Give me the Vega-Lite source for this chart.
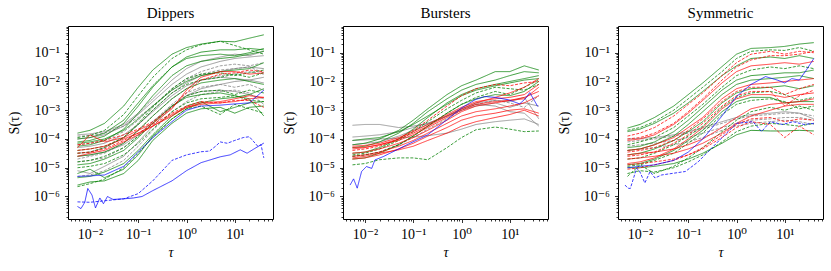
{
"$schema":"https://vega.github.io/schema/vega-lite/v6.json",
"padding":{"left":6,"top":5,"right":5,"bottom":5},
"config":{"font":"Liberation Serif, DejaVu Serif, Times New Roman, serif","view":{"stroke":"black","strokeWidth":1},
"axis":{"tickColor":"black","labelColor":"black","titleColor":"black","labelFont":"Liberation Serif, DejaVu Serif, Times New Roman, serif","titleFont":"Liberation Serif, DejaVu Serif, Times New Roman, serif","labelFontSize":14,"titleFontSize":14,"titleFontWeight":"normal","tickWidth":0.8,"grid":false,"domain":false,"labelOverlap":false},
"title":{"font":"Liberation Serif, DejaVu Serif, Times New Roman, serif","fontSize":15,"fontWeight":"normal","color":"black","offset":5}},
"spacing":70,
"bounds":"flush",
"datasets":{
"lines":[{"l":"D1","c":"g","d":"s"},{"l":"D2","c":"g","d":"d"},{"l":"D3","c":"g","d":"s"},{"l":"D4","c":"g","d":"s"},{"l":"D5","c":"g","d":"d"},{"l":"D6","c":"g","d":"s"},{"l":"D7","c":"g","d":"d"},{"l":"D8","c":"g","d":"s"},{"l":"D9","c":"g","d":"s"},{"l":"D10","c":"g","d":"d"},{"l":"D11","c":"g","d":"s"},{"l":"D12","c":"g","d":"d"},{"l":"D13","c":"g","d":"s"},{"l":"D14","c":"g","d":"d"},{"l":"D15","c":"g","d":"s"},{"l":"D16","c":"g","d":"s"},{"l":"D17","c":"k","d":"s"},{"l":"D18","c":"k","d":"d"},{"l":"D19","c":"k","d":"s"},{"l":"D20","c":"k","d":"d"},{"l":"D21","c":"k","d":"s"},{"l":"D22","c":"k","d":"d"},{"l":"D23","c":"k","d":"s"},{"l":"D24","c":"k","d":"d"},{"l":"D25","c":"k","d":"s"},{"l":"D26","c":"k","d":"d"},{"l":"D27","c":"k","d":"s"},{"l":"D28","c":"r","d":"s"},{"l":"D29","c":"r","d":"s"},{"l":"D30","c":"r","d":"d"},{"l":"D31","c":"r","d":"s"},{"l":"D32","c":"r","d":"d"},{"l":"D33","c":"b","d":"s"},{"l":"D34","c":"b","d":"d"},{"l":"D35","c":"b","d":"s"},
{"l":"B1","c":"k","d":"s"},{"l":"B2","c":"k","d":"s"},{"l":"B3","c":"k","d":"s"},{"l":"B4","c":"k","d":"d"},{"l":"B5","c":"k","d":"s"},{"l":"B6","c":"r","d":"s"},{"l":"B7","c":"r","d":"s"},{"l":"B8","c":"r","d":"s"},{"l":"B9","c":"r","d":"s"},{"l":"B10","c":"r","d":"s"},{"l":"B11","c":"r","d":"s"},{"l":"B12","c":"r","d":"d"},{"l":"B13","c":"r","d":"s"},{"l":"B14","c":"g","d":"s"},{"l":"B15","c":"g","d":"s"},{"l":"B16","c":"g","d":"s"},{"l":"B17","c":"g","d":"d"},{"l":"B18","c":"g","d":"s"},{"l":"B19","c":"g","d":"d"},{"l":"B20","c":"g","d":"s"},{"l":"B21","c":"g","d":"d"},{"l":"B22","c":"b","d":"s"},
{"l":"S1","c":"g","d":"s"},{"l":"S2","c":"r","d":"d"},{"l":"S3","c":"g","d":"s"},{"l":"S4","c":"r","d":"s"},{"l":"S5","c":"g","d":"d"},{"l":"S6","c":"g","d":"s"},{"l":"S7","c":"r","d":"d"},{"l":"S8","c":"g","d":"s"},{"l":"S9","c":"g","d":"d"},{"l":"S10","c":"r","d":"s"},{"l":"S11","c":"g","d":"s"},{"l":"S12","c":"r","d":"d"},{"l":"S13","c":"g","d":"d"},{"l":"S14","c":"r","d":"s"},{"l":"S15","c":"g","d":"s"},{"l":"S16","c":"r","d":"d"},{"l":"S17","c":"g","d":"d"},{"l":"S18","c":"k","d":"d"},{"l":"S19","c":"k","d":"d"},{"l":"S20","c":"k","d":"d"},{"l":"S21","c":"k","d":"s"},{"l":"S22","c":"r","d":"s"},{"l":"S23","c":"r","d":"d"},{"l":"S24","c":"g","d":"s"},{"l":"S25","c":"g","d":"d"},{"l":"S26","c":"r","d":"s"},{"l":"S27","c":"g","d":"d"},{"l":"S28","c":"r","d":"d"},{"l":"S29","c":"b","d":"s"},{"l":"S30","c":"b","d":"d"}],
"dip":[
{"l":"D17","t":0.0055,"s":1e-4},{"l":"D17","t":0.01,"s":1.12e-4},{"l":"D17","t":0.02,"s":1.4e-4},{"l":"D17","t":0.05,"s":2.8e-4},{"l":"D17","t":0.1,"s":7.1e-4},{"l":"D17","t":0.2,"s":2e-3},{"l":"D17","t":0.5,"s":7.9e-3},{"l":"D17","t":1,"s":1.8e-2},{"l":"D17","t":2,"s":3.2e-2},{"l":"D17","t":5,"s":5e-2},{"l":"D17","t":10,"s":6.3e-2},{"l":"D17","t":20,"s":7.1e-2},{"l":"D17","t":40,"s":7.9e-2},
{"l":"D18","t":0.0055,"s":6.3e-5},{"l":"D18","t":0.01,"s":7.1e-5},{"l":"D18","t":0.02,"s":8.9e-5},{"l":"D18","t":0.05,"s":1.8e-4},{"l":"D18","t":0.1,"s":4.5e-4},{"l":"D18","t":0.2,"s":1.4e-3},{"l":"D18","t":0.5,"s":5.6e-3},{"l":"D18","t":1,"s":1.26e-2},{"l":"D18","t":2,"s":2.2e-2},{"l":"D18","t":5,"s":3.5e-2},{"l":"D18","t":10,"s":4e-2},{"l":"D18","t":20,"s":3.5e-2},{"l":"D18","t":40,"s":4.5e-2},
{"l":"D19","t":0.0055,"s":3.2e-5},{"l":"D19","t":0.01,"s":3.5e-5},{"l":"D19","t":0.02,"s":5e-5},{"l":"D19","t":0.05,"s":1.12e-4},{"l":"D19","t":0.1,"s":3.2e-4},{"l":"D19","t":0.2,"s":1e-3},{"l":"D19","t":0.5,"s":4e-3},{"l":"D19","t":1,"s":8.9e-3},{"l":"D19","t":2,"s":1.6e-2},{"l":"D19","t":5,"s":2.2e-2},{"l":"D19","t":10,"s":2.8e-2},{"l":"D19","t":20,"s":3.2e-2},{"l":"D19","t":40,"s":2.8e-2},
{"l":"D20","t":0.0055,"s":2e-5},{"l":"D20","t":0.01,"s":2.5e-5},{"l":"D20","t":0.02,"s":3.2e-5},{"l":"D20","t":0.05,"s":7.1e-5},{"l":"D20","t":0.1,"s":2e-4},{"l":"D20","t":0.2,"s":6.3e-4},{"l":"D20","t":0.5,"s":2.5e-3},{"l":"D20","t":1,"s":5.6e-3},{"l":"D20","t":2,"s":1.12e-2},{"l":"D20","t":5,"s":1.6e-2},{"l":"D20","t":10,"s":1.8e-2},{"l":"D20","t":20,"s":2.2e-2},{"l":"D20","t":40,"s":1.8e-2},
{"l":"D21","t":0.0055,"s":7.9e-6},{"l":"D21","t":0.01,"s":6.3e-6},{"l":"D21","t":0.02,"s":1.12e-5},{"l":"D21","t":0.05,"s":2.5e-5},{"l":"D21","t":0.1,"s":7.9e-5},{"l":"D21","t":0.2,"s":2.8e-4},{"l":"D21","t":0.5,"s":1.26e-3},{"l":"D21","t":1,"s":3.2e-3},{"l":"D21","t":2,"s":5.6e-3},{"l":"D21","t":5,"s":7.9e-3},{"l":"D21","t":10,"s":1e-2},{"l":"D21","t":20,"s":1.12e-2},{"l":"D21","t":40,"s":1.4e-2},
{"l":"D22","t":0.0055,"s":1.26e-4},{"l":"D22","t":0.01,"s":1.3e-4},{"l":"D22","t":0.02,"s":1.6e-4},{"l":"D22","t":0.05,"s":2.8e-4},{"l":"D22","t":0.1,"s":5.6e-4},{"l":"D22","t":0.2,"s":1.4e-3},{"l":"D22","t":0.5,"s":5e-3},{"l":"D22","t":1,"s":1.12e-2},{"l":"D22","t":2,"s":1.8e-2},{"l":"D22","t":5,"s":2.5e-2},{"l":"D22","t":10,"s":2.8e-2},{"l":"D22","t":20,"s":3.2e-2},{"l":"D22","t":40,"s":2e-2},
{"l":"D23","t":0.0055,"s":5e-5},{"l":"D23","t":0.01,"s":5.6e-5},{"l":"D23","t":0.02,"s":7.1e-5},{"l":"D23","t":0.05,"s":1.4e-4},{"l":"D23","t":0.1,"s":3.2e-4},{"l":"D23","t":0.2,"s":8.9e-4},{"l":"D23","t":0.5,"s":3.2e-3},{"l":"D23","t":1,"s":7.1e-3},{"l":"D23","t":2,"s":1.12e-2},{"l":"D23","t":5,"s":1.4e-2},{"l":"D23","t":10,"s":1.26e-2},{"l":"D23","t":20,"s":1.12e-2},{"l":"D23","t":40,"s":8.9e-3},
{"l":"D24","t":0.0055,"s":1.6e-5},{"l":"D24","t":0.01,"s":1.8e-5},{"l":"D24","t":0.02,"s":2.2e-5},{"l":"D24","t":0.05,"s":5e-5},{"l":"D24","t":0.1,"s":1.26e-4},{"l":"D24","t":0.2,"s":4e-4},{"l":"D24","t":0.5,"s":1.6e-3},{"l":"D24","t":1,"s":4e-3},{"l":"D24","t":2,"s":6.3e-3},{"l":"D24","t":5,"s":7.9e-3},{"l":"D24","t":10,"s":6.3e-3},{"l":"D24","t":20,"s":7.9e-3},{"l":"D24","t":40,"s":5e-3},
{"l":"D25","t":0.0055,"s":2.5e-5},{"l":"D25","t":0.01,"s":2.8e-5},{"l":"D25","t":0.02,"s":3.5e-5},{"l":"D25","t":0.05,"s":6.3e-5},{"l":"D25","t":0.1,"s":1.4e-4},{"l":"D25","t":0.2,"s":4e-4},{"l":"D25","t":0.5,"s":1.4e-3},{"l":"D25","t":1,"s":3.2e-3},{"l":"D25","t":2,"s":4.5e-3},{"l":"D25","t":5,"s":5e-3},{"l":"D25","t":10,"s":4.5e-3},{"l":"D25","t":20,"s":3.5e-3},{"l":"D25","t":40,"s":2.5e-3},
{"l":"D26","t":0.0055,"s":5e-6},{"l":"D26","t":0.01,"s":5.6e-6},{"l":"D26","t":0.02,"s":7.9e-6},{"l":"D26","t":0.05,"s":1.8e-5},{"l":"D26","t":0.1,"s":5.6e-5},{"l":"D26","t":0.2,"s":2e-4},{"l":"D26","t":0.5,"s":8.9e-4},{"l":"D26","t":1,"s":2e-3},{"l":"D26","t":2,"s":3.5e-3},{"l":"D26","t":5,"s":4.5e-3},{"l":"D26","t":10,"s":5e-3},{"l":"D26","t":20,"s":4e-3},{"l":"D26","t":40,"s":1.6e-3},
{"l":"D27","t":0.0055,"s":1.4e-4},{"l":"D27","t":0.01,"s":1.5e-4},{"l":"D27","t":0.02,"s":1.8e-4},{"l":"D27","t":0.05,"s":3.2e-4},{"l":"D27","t":0.1,"s":7.9e-4},{"l":"D27","t":0.2,"s":2.5e-3},{"l":"D27","t":0.5,"s":1.12e-2},{"l":"D27","t":1,"s":2.8e-2},{"l":"D27","t":2,"s":5e-2},{"l":"D27","t":5,"s":7.1e-2},{"l":"D27","t":10,"s":8.9e-2},{"l":"D27","t":20,"s":7.9e-2},{"l":"D27","t":40,"s":0.112},
{"l":"D1","t":0.0055,"s":1.6e-4},{"l":"D1","t":0.01,"s":2e-4},{"l":"D1","t":0.02,"s":3.5e-4},{"l":"D1","t":0.05,"s":1.4e-3},{"l":"D1","t":0.1,"s":6.3e-3},{"l":"D1","t":0.2,"s":2.5e-2},{"l":"D1","t":0.5,"s":8.9e-2},{"l":"D1","t":1,"s":0.151},{"l":"D1","t":2,"s":0.2},{"l":"D1","t":5,"s":0.25},{"l":"D1","t":10,"s":0.24},{"l":"D1","t":20,"s":0.32},{"l":"D1","t":40,"s":0.42},
{"l":"D2","t":0.0055,"s":1.12e-4},{"l":"D2","t":0.01,"s":1.32e-4},{"l":"D2","t":0.02,"s":2e-4},{"l":"D2","t":0.05,"s":7.1e-4},{"l":"D2","t":0.1,"s":3.2e-3},{"l":"D2","t":0.2,"s":1.4e-2},{"l":"D2","t":0.5,"s":6.3e-2},{"l":"D2","t":1,"s":0.126},{"l":"D2","t":2,"s":0.191},{"l":"D2","t":5,"s":0.25},{"l":"D2","t":10,"s":0.178},{"l":"D2","t":20,"s":0.126},{"l":"D2","t":40,"s":8.9e-2},
{"l":"D3","t":0.0055,"s":7.9e-5},{"l":"D3","t":0.01,"s":8.9e-5},{"l":"D3","t":0.02,"s":1.26e-4},{"l":"D3","t":0.05,"s":3.5e-4},{"l":"D3","t":0.1,"s":1.4e-3},{"l":"D3","t":0.2,"s":6.3e-3},{"l":"D3","t":0.5,"s":3.2e-2},{"l":"D3","t":1,"s":7.1e-2},{"l":"D3","t":2,"s":0.105},{"l":"D3","t":5,"s":0.126},{"l":"D3","t":10,"s":0.126},{"l":"D3","t":20,"s":0.141},{"l":"D3","t":40,"s":0.126},
{"l":"D4","t":0.0055,"s":5.6e-5},{"l":"D4","t":0.01,"s":6.3e-5},{"l":"D4","t":0.02,"s":8.9e-5},{"l":"D4","t":0.05,"s":2.2e-4},{"l":"D4","t":0.1,"s":7.9e-4},{"l":"D4","t":0.2,"s":3.2e-3},{"l":"D4","t":0.5,"s":1.6e-2},{"l":"D4","t":1,"s":3.5e-2},{"l":"D4","t":2,"s":5e-2},{"l":"D4","t":5,"s":6.3e-2},{"l":"D4","t":10,"s":7.1e-2},{"l":"D4","t":20,"s":8.9e-2},{"l":"D4","t":40,"s":0.112},
{"l":"D5","t":0.0055,"s":3.2e-5},{"l":"D5","t":0.01,"s":3.5e-5},{"l":"D5","t":0.02,"s":5e-5},{"l":"D5","t":0.05,"s":1.12e-4},{"l":"D5","t":0.1,"s":3.5e-4},{"l":"D5","t":0.2,"s":1.26e-3},{"l":"D5","t":0.5,"s":5.6e-3},{"l":"D5","t":1,"s":1.26e-2},{"l":"D5","t":2,"s":1.8e-2},{"l":"D5","t":5,"s":2e-2},{"l":"D5","t":10,"s":1.6e-2},{"l":"D5","t":20,"s":2e-2},{"l":"D5","t":40,"s":2.5e-2},
{"l":"D6","t":0.0055,"s":2.5e-5},{"l":"D6","t":0.01,"s":2.8e-5},{"l":"D6","t":0.02,"s":3.5e-5},{"l":"D6","t":0.05,"s":7.1e-5},{"l":"D6","t":0.1,"s":2e-4},{"l":"D6","t":0.2,"s":6.3e-4},{"l":"D6","t":0.5,"s":2.5e-3},{"l":"D6","t":1,"s":5.6e-3},{"l":"D6","t":2,"s":8.9e-3},{"l":"D6","t":5,"s":1.12e-2},{"l":"D6","t":10,"s":1.26e-2},{"l":"D6","t":20,"s":1e-2},{"l":"D6","t":40,"s":7.9e-3},
{"l":"D7","t":0.0055,"s":1.6e-5},{"l":"D7","t":0.01,"s":1.8e-5},{"l":"D7","t":0.02,"s":2.5e-5},{"l":"D7","t":0.05,"s":5e-5},{"l":"D7","t":0.1,"s":1.26e-4},{"l":"D7","t":0.2,"s":3.5e-4},{"l":"D7","t":0.5,"s":1.4e-3},{"l":"D7","t":1,"s":3.2e-3},{"l":"D7","t":2,"s":4.5e-3},{"l":"D7","t":5,"s":5e-3},{"l":"D7","t":10,"s":3.5e-3},{"l":"D7","t":20,"s":5e-3},{"l":"D7","t":40,"s":4e-3},
{"l":"D8","t":0.0055,"s":6.3e-6},{"l":"D8","t":0.01,"s":8.9e-6},{"l":"D8","t":0.02,"s":4.5e-6},{"l":"D8","t":0.05,"s":8.9e-6},{"l":"D8","t":0.1,"s":2.8e-5},{"l":"D8","t":0.2,"s":1.26e-4},{"l":"D8","t":0.5,"s":5e-4},{"l":"D8","t":1,"s":1.12e-3},{"l":"D8","t":2,"s":1.8e-3},{"l":"D8","t":5,"s":2.5e-3},{"l":"D8","t":10,"s":2.8e-3},{"l":"D8","t":20,"s":3.5e-3},{"l":"D8","t":40,"s":5.6e-3},
{"l":"D9","t":0.0055,"s":4.5e-6},{"l":"D9","t":0.01,"s":5e-6},{"l":"D9","t":0.02,"s":7.1e-6},{"l":"D9","t":0.05,"s":1.4e-5},{"l":"D9","t":0.1,"s":4e-5},{"l":"D9","t":0.2,"s":1.4e-4},{"l":"D9","t":0.5,"s":6.3e-4},{"l":"D9","t":1,"s":1.4e-3},{"l":"D9","t":2,"s":2e-3},{"l":"D9","t":5,"s":8.9e-4},{"l":"D9","t":10,"s":1.26e-3},{"l":"D9","t":20,"s":1.8e-3},{"l":"D9","t":40,"s":2e-3},
{"l":"D10","t":0.0055,"s":2.2e-6},{"l":"D10","t":0.01,"s":2.8e-6},{"l":"D10","t":0.02,"s":4e-6},{"l":"D10","t":0.05,"s":1e-5},{"l":"D10","t":0.1,"s":3.2e-5},{"l":"D10","t":0.2,"s":1.12e-4},{"l":"D10","t":0.5,"s":5e-4},{"l":"D10","t":1,"s":1.12e-3},{"l":"D10","t":2,"s":1.4e-3},{"l":"D10","t":5,"s":7.1e-4},{"l":"D10","t":10,"s":1.6e-3},{"l":"D10","t":20,"s":1.12e-3},{"l":"D10","t":40,"s":7.9e-4},
{"l":"D11","t":0.0055,"s":7.1e-5},{"l":"D11","t":0.01,"s":7.9e-5},{"l":"D11","t":0.02,"s":1e-4},{"l":"D11","t":0.05,"s":2e-4},{"l":"D11","t":0.1,"s":5e-4},{"l":"D11","t":0.2,"s":1.4e-3},{"l":"D11","t":0.5,"s":5e-3},{"l":"D11","t":1,"s":1e-2},{"l":"D11","t":2,"s":1.6e-2},{"l":"D11","t":5,"s":2.2e-2},{"l":"D11","t":10,"s":2.5e-2},{"l":"D11","t":20,"s":2.8e-2},{"l":"D11","t":40,"s":4.5e-2},
{"l":"D12","t":0.0055,"s":4e-5},{"l":"D12","t":0.01,"s":4.5e-5},{"l":"D12","t":0.02,"s":5.6e-5},{"l":"D12","t":0.05,"s":1.12e-4},{"l":"D12","t":0.1,"s":3.2e-4},{"l":"D12","t":0.2,"s":1e-3},{"l":"D12","t":0.5,"s":4e-3},{"l":"D12","t":1,"s":7.9e-3},{"l":"D12","t":2,"s":1.12e-2},{"l":"D12","t":5,"s":1.4e-2},{"l":"D12","t":10,"s":1.8e-2},{"l":"D12","t":20,"s":1.4e-2},{"l":"D12","t":40,"s":2e-2},
{"l":"D13","t":0.0055,"s":1.26e-5},{"l":"D13","t":0.01,"s":1.4e-5},{"l":"D13","t":0.02,"s":2e-5},{"l":"D13","t":0.05,"s":4e-5},{"l":"D13","t":0.1,"s":1.12e-4},{"l":"D13","t":0.2,"s":3.5e-4},{"l":"D13","t":0.5,"s":1.4e-3},{"l":"D13","t":1,"s":2.8e-3},{"l":"D13","t":2,"s":3.5e-3},{"l":"D13","t":5,"s":4e-3},{"l":"D13","t":10,"s":3.2e-3},{"l":"D13","t":20,"s":2.5e-3},{"l":"D13","t":40,"s":6.3e-4},
{"l":"D14","t":0.0055,"s":1e-5},{"l":"D14","t":0.01,"s":1.12e-5},{"l":"D14","t":0.02,"s":1.4e-5},{"l":"D14","t":0.05,"s":2.8e-5},{"l":"D14","t":0.1,"s":7.1e-5},{"l":"D14","t":0.2,"s":2.2e-4},{"l":"D14","t":0.5,"s":8.9e-4},{"l":"D14","t":1,"s":1.8e-3},{"l":"D14","t":2,"s":2.5e-3},{"l":"D14","t":5,"s":2.8e-3},{"l":"D14","t":10,"s":3.2e-3},{"l":"D14","t":20,"s":2.2e-3},{"l":"D14","t":40,"s":2e-3},
{"l":"D15","t":0.0055,"s":1e-4},{"l":"D15","t":0.01,"s":1.12e-4},{"l":"D15","t":0.02,"s":1.6e-4},{"l":"D15","t":0.05,"s":4.5e-4},{"l":"D15","t":0.1,"s":1.8e-3},{"l":"D15","t":0.2,"s":7.1e-3},{"l":"D15","t":0.5,"s":3.2e-2},{"l":"D15","t":1,"s":6.3e-2},{"l":"D15","t":2,"s":7.9e-2},{"l":"D15","t":5,"s":8.9e-2},{"l":"D15","t":10,"s":7.9e-2},{"l":"D15","t":20,"s":0.1},{"l":"D15","t":40,"s":0.141},
{"l":"D16","t":0.0055,"s":2.5e-6},{"l":"D16","t":0.01,"s":3.2e-6},{"l":"D16","t":0.02,"s":3.5e-6},{"l":"D16","t":0.05,"s":6.3e-6},{"l":"D16","t":0.1,"s":1.8e-5},{"l":"D16","t":0.2,"s":8.9e-5},{"l":"D16","t":0.5,"s":3.5e-4},{"l":"D16","t":1,"s":7.9e-4},{"l":"D16","t":2,"s":1.12e-3},{"l":"D16","t":5,"s":1.26e-3},{"l":"D16","t":10,"s":7.9e-4},{"l":"D16","t":20,"s":1.26e-3},{"l":"D16","t":40,"s":1.4e-3},
{"l":"D28","t":0.0055,"s":5e-5},{"l":"D28","t":0.01,"s":1.4e-4},{"l":"D28","t":0.02,"s":7.9e-5},{"l":"D28","t":0.05,"s":1.12e-4},{"l":"D28","t":0.1,"s":2e-4},{"l":"D28","t":0.2,"s":3.5e-4},{"l":"D28","t":0.5,"s":1.12e-3},{"l":"D28","t":1,"s":5e-3},{"l":"D28","t":2,"s":1.4e-2},{"l":"D28","t":5,"s":2.2e-2},{"l":"D28","t":10,"s":2.2e-2},{"l":"D28","t":20,"s":1.8e-2},{"l":"D28","t":40,"s":2e-2},
{"l":"D29","t":0.0055,"s":4e-5},{"l":"D29","t":0.01,"s":4.5e-5},{"l":"D29","t":0.02,"s":5.6e-5},{"l":"D29","t":0.05,"s":1e-4},{"l":"D29","t":0.1,"s":1.6e-4},{"l":"D29","t":0.2,"s":2.8e-4},{"l":"D29","t":0.5,"s":6.3e-4},{"l":"D29","t":1,"s":1.26e-3},{"l":"D29","t":2,"s":1.8e-3},{"l":"D29","t":5,"s":2e-3},{"l":"D29","t":10,"s":2.5e-3},{"l":"D29","t":20,"s":3.2e-3},{"l":"D29","t":40,"s":2.8e-3},
{"l":"D30","t":0.0055,"s":6.3e-5},{"l":"D30","t":0.01,"s":7.1e-5},{"l":"D30","t":0.02,"s":8.9e-5},{"l":"D30","t":0.05,"s":1.4e-4},{"l":"D30","t":0.1,"s":2.2e-4},{"l":"D30","t":0.2,"s":4e-4},{"l":"D30","t":0.5,"s":1.26e-3},{"l":"D30","t":1,"s":4e-3},{"l":"D30","t":2,"s":1.12e-2},{"l":"D30","t":5,"s":1.8e-2},{"l":"D30","t":10,"s":2e-2},{"l":"D30","t":20,"s":2.5e-2},{"l":"D30","t":40,"s":2.2e-2},
{"l":"D31","t":0.0055,"s":2.5e-5},{"l":"D31","t":0.01,"s":3.2e-5},{"l":"D31","t":0.02,"s":4e-5},{"l":"D31","t":0.05,"s":7.9e-5},{"l":"D31","t":0.1,"s":1.4e-4},{"l":"D31","t":0.2,"s":2.8e-4},{"l":"D31","t":0.5,"s":7.1e-4},{"l":"D31","t":1,"s":1.26e-3},{"l":"D31","t":2,"s":1.6e-3},{"l":"D31","t":5,"s":1.8e-3},{"l":"D31","t":10,"s":2e-3},{"l":"D31","t":20,"s":2.5e-3},{"l":"D31","t":40,"s":2.8e-3},
{"l":"D32","t":0.0055,"s":3.2e-5},{"l":"D32","t":0.01,"s":3.5e-5},{"l":"D32","t":0.02,"s":4.5e-5},{"l":"D32","t":0.05,"s":8.9e-5},{"l":"D32","t":0.1,"s":1.6e-4},{"l":"D32","t":0.2,"s":3.2e-4},{"l":"D32","t":0.5,"s":7.9e-4},{"l":"D32","t":1,"s":1.4e-3},{"l":"D32","t":2,"s":2e-3},{"l":"D32","t":5,"s":1.8e-3},{"l":"D32","t":10,"s":2.2e-3},{"l":"D32","t":20,"s":2.2e-3},{"l":"D32","t":40,"s":1.26e-3},
{"l":"D35","t":0.0055,"s":5e-6},{"l":"D35","t":0.01,"s":5.2e-6},{"l":"D35","t":0.02,"s":5.6e-6},{"l":"D35","t":0.05,"s":1.12e-5},{"l":"D35","t":0.1,"s":3.5e-5},{"l":"D35","t":0.2,"s":1.12e-4},{"l":"D35","t":0.5,"s":4e-4},{"l":"D35","t":1,"s":1e-3},{"l":"D35","t":2,"s":1.4e-3},{"l":"D35","t":5,"s":1.5e-3},{"l":"D35","t":10,"s":1.66e-3},{"l":"D35","t":20,"s":1.8e-3},{"l":"D35","t":40,"s":5e-3},
{"l":"D33","t":0.0055,"s":4.5e-7},{"l":"D33","t":0.0065,"s":3.8e-7},{"l":"D33","t":0.0078,"s":6.3e-7},{"l":"D33","t":0.009,"s":1.9e-6},{"l":"D33","t":0.011,"s":1.12e-6},{"l":"D33","t":0.013,"s":4e-7},{"l":"D33","t":0.016,"s":8.9e-7},{"l":"D33","t":0.019,"s":5.6e-7},{"l":"D33","t":0.023,"s":1e-6},{"l":"D33","t":0.03,"s":7.9e-7},{"l":"D33","t":0.05,"s":8.3e-7},{"l":"D33","t":0.08,"s":8.9e-7},{"l":"D33","t":0.12,"s":1e-6},{"l":"D33","t":0.2,"s":1.6e-6},{"l":"D33","t":0.5,"s":3.5e-6},{"l":"D33","t":1,"s":7.9e-6},{"l":"D33","t":2,"s":1.5e-5},{"l":"D33","t":5,"s":2.4e-5},{"l":"D33","t":8,"s":2.8e-5},{"l":"D33","t":13,"s":4.2e-5},{"l":"D33","t":18,"s":3.2e-5},{"l":"D33","t":25,"s":4.5e-5},{"l":"D33","t":40,"s":7.2e-5},
{"l":"D34","t":0.0055,"s":6.5e-7},{"l":"D34","t":0.01,"s":6.3e-7},{"l":"D34","t":0.02,"s":7.1e-7},{"l":"D34","t":0.05,"s":8.3e-7},{"l":"D34","t":0.1,"s":1.26e-6},{"l":"D34","t":0.2,"s":3.5e-6},{"l":"D34","t":0.5,"s":1.8e-5},{"l":"D34","t":1,"s":2.8e-5},{"l":"D34","t":2,"s":3.6e-5},{"l":"D34","t":3,"s":3.8e-5},{"l":"D34","t":4,"s":5.6e-5},{"l":"D34","t":5,"s":7.9e-5},{"l":"D34","t":7,"s":7.1e-5},{"l":"D34","t":10,"s":8.9e-5},{"l":"D34","t":15,"s":1.12e-4},{"l":"D34","t":20,"s":1.2e-4},{"l":"D34","t":25,"s":7.9e-5},{"l":"D34","t":30,"s":5.6e-5},{"l":"D34","t":35,"s":6.3e-5},{"l":"D34","t":40,"s":2.2e-5}
],
"bur":[
{"l":"B1","t":0.0055,"s":3e-4},{"l":"B1","t":0.01,"s":3.2e-4},{"l":"B1","t":0.02,"s":3.2e-4},{"l":"B1","t":0.05,"s":2.5e-4},{"l":"B1","t":0.1,"s":2.8e-4},{"l":"B1","t":0.2,"s":3.5e-4},{"l":"B1","t":0.5,"s":6.3e-4},{"l":"B1","t":1,"s":1.12e-3},{"l":"B1","t":2,"s":1.8e-3},{"l":"B1","t":5,"s":2.2e-3},{"l":"B1","t":10,"s":2e-3},{"l":"B1","t":20,"s":2.8e-3},{"l":"B1","t":40,"s":5e-4},
{"l":"B2","t":0.0055,"s":1.17e-4},{"l":"B2","t":0.01,"s":1.26e-4},{"l":"B2","t":0.02,"s":1.4e-4},{"l":"B2","t":0.05,"s":1.8e-4},{"l":"B2","t":0.1,"s":2.5e-4},{"l":"B2","t":0.2,"s":3.5e-4},{"l":"B2","t":0.5,"s":6.3e-4},{"l":"B2","t":1,"s":1e-3},{"l":"B2","t":2,"s":1.4e-3},{"l":"B2","t":5,"s":1.8e-3},{"l":"B2","t":10,"s":1.26e-3},{"l":"B2","t":20,"s":1.8e-3},{"l":"B2","t":40,"s":1.4e-3},
{"l":"B3","t":0.0055,"s":8.9e-5},{"l":"B3","t":0.01,"s":9.3e-5},{"l":"B3","t":0.02,"s":1e-4},{"l":"B3","t":0.05,"s":1.07e-4},{"l":"B3","t":0.1,"s":1.17e-4},{"l":"B3","t":0.2,"s":1.3e-4},{"l":"B3","t":0.5,"s":1.6e-4},{"l":"B3","t":1,"s":2.2e-4},{"l":"B3","t":2,"s":3.2e-4},{"l":"B3","t":5,"s":4e-4},{"l":"B3","t":10,"s":4.5e-4},{"l":"B3","t":20,"s":5e-4},{"l":"B3","t":40,"s":3.2e-4},
{"l":"B4","t":0.0055,"s":2.5e-5},{"l":"B4","t":0.01,"s":2.8e-5},{"l":"B4","t":0.02,"s":3.5e-5},{"l":"B4","t":0.05,"s":6.3e-5},{"l":"B4","t":0.1,"s":1.12e-4},{"l":"B4","t":0.2,"s":2.2e-4},{"l":"B4","t":0.5,"s":5e-4},{"l":"B4","t":1,"s":1e-3},{"l":"B4","t":2,"s":1.6e-3},{"l":"B4","t":5,"s":2.2e-3},{"l":"B4","t":10,"s":1.8e-3},{"l":"B4","t":20,"s":1.26e-3},{"l":"B4","t":40,"s":3.2e-3},
{"l":"B5","t":0.0055,"s":6.3e-5},{"l":"B5","t":0.01,"s":7.1e-5},{"l":"B5","t":0.02,"s":7.9e-5},{"l":"B5","t":0.05,"s":1.26e-4},{"l":"B5","t":0.1,"s":2e-4},{"l":"B5","t":0.2,"s":3.2e-4},{"l":"B5","t":0.5,"s":6.3e-4},{"l":"B5","t":1,"s":1.12e-3},{"l":"B5","t":2,"s":1.6e-3},{"l":"B5","t":5,"s":1.4e-3},{"l":"B5","t":10,"s":8.9e-4},{"l":"B5","t":20,"s":7.9e-4},{"l":"B5","t":40,"s":2.8e-4},
{"l":"B14","t":0.0055,"s":6.3e-5},{"l":"B14","t":0.01,"s":7.1e-5},{"l":"B14","t":0.02,"s":1e-4},{"l":"B14","t":0.05,"s":2e-4},{"l":"B14","t":0.1,"s":4.5e-4},{"l":"B14","t":0.2,"s":1.12e-3},{"l":"B14","t":0.5,"s":3.5e-3},{"l":"B14","t":1,"s":7.1e-3},{"l":"B14","t":2,"s":1.12e-2},{"l":"B14","t":5,"s":2.2e-2},{"l":"B14","t":10,"s":2.2e-2},{"l":"B14","t":20,"s":3.5e-2},{"l":"B14","t":40,"s":2.5e-2},
{"l":"B15","t":0.0055,"s":5e-5},{"l":"B15","t":0.01,"s":5.6e-5},{"l":"B15","t":0.02,"s":7.9e-5},{"l":"B15","t":0.05,"s":1.6e-4},{"l":"B15","t":0.1,"s":3.5e-4},{"l":"B15","t":0.2,"s":8.9e-4},{"l":"B15","t":0.5,"s":2.5e-3},{"l":"B15","t":1,"s":5e-3},{"l":"B15","t":2,"s":7.9e-3},{"l":"B15","t":5,"s":1.12e-2},{"l":"B15","t":10,"s":1.6e-2},{"l":"B15","t":20,"s":2.2e-2},{"l":"B15","t":40,"s":2e-2},
{"l":"B16","t":0.0055,"s":3.2e-5},{"l":"B16","t":0.01,"s":3.5e-5},{"l":"B16","t":0.02,"s":5e-5},{"l":"B16","t":0.05,"s":1e-4},{"l":"B16","t":0.1,"s":2.2e-4},{"l":"B16","t":0.2,"s":5.6e-4},{"l":"B16","t":0.5,"s":1.8e-3},{"l":"B16","t":1,"s":3.5e-3},{"l":"B16","t":2,"s":5.6e-3},{"l":"B16","t":5,"s":7.9e-3},{"l":"B16","t":10,"s":1e-2},{"l":"B16","t":20,"s":1.26e-2},{"l":"B16","t":40,"s":1.6e-2},
{"l":"B17","t":0.0055,"s":2.8e-5},{"l":"B17","t":0.01,"s":3.2e-5},{"l":"B17","t":0.02,"s":4.5e-5},{"l":"B17","t":0.05,"s":8.9e-5},{"l":"B17","t":0.1,"s":1.8e-4},{"l":"B17","t":0.2,"s":4e-4},{"l":"B17","t":0.5,"s":1.12e-3},{"l":"B17","t":1,"s":2.2e-3},{"l":"B17","t":2,"s":4e-3},{"l":"B17","t":5,"s":6.3e-3},{"l":"B17","t":10,"s":5.6e-3},{"l":"B17","t":20,"s":5e-3},{"l":"B17","t":40,"s":7.9e-3},
{"l":"B18","t":0.0055,"s":2e-5},{"l":"B18","t":0.01,"s":2.2e-5},{"l":"B18","t":0.02,"s":3.2e-5},{"l":"B18","t":0.05,"s":6.3e-5},{"l":"B18","t":0.1,"s":1.26e-4},{"l":"B18","t":0.2,"s":2.8e-4},{"l":"B18","t":0.5,"s":7.9e-4},{"l":"B18","t":1,"s":1.6e-3},{"l":"B18","t":2,"s":2.5e-3},{"l":"B18","t":5,"s":3.5e-3},{"l":"B18","t":10,"s":3.2e-3},{"l":"B18","t":20,"s":4.5e-3},{"l":"B18","t":40,"s":1e-2},
{"l":"B19","t":0.0055,"s":1.26e-5},{"l":"B19","t":0.01,"s":1.4e-5},{"l":"B19","t":0.02,"s":1.9e-5},{"l":"B19","t":0.05,"s":2.2e-5},{"l":"B19","t":0.1,"s":2.2e-5},{"l":"B19","t":0.2,"s":1.9e-5},{"l":"B19","t":0.5,"s":5e-5},{"l":"B19","t":1,"s":1.12e-4},{"l":"B19","t":2,"s":2.1e-4},{"l":"B19","t":5,"s":2.6e-4},{"l":"B19","t":10,"s":2.2e-4},{"l":"B19","t":20,"s":1.8e-4},{"l":"B19","t":40,"s":1.9e-4},
{"l":"B20","t":0.0055,"s":8.9e-5},{"l":"B20","t":0.01,"s":1e-4},{"l":"B20","t":0.02,"s":1.12e-4},{"l":"B20","t":0.05,"s":1.8e-4},{"l":"B20","t":0.1,"s":3.2e-4},{"l":"B20","t":0.2,"s":6.3e-4},{"l":"B20","t":0.5,"s":1.6e-3},{"l":"B20","t":1,"s":3.2e-3},{"l":"B20","t":2,"s":5e-3},{"l":"B20","t":5,"s":7.1e-3},{"l":"B20","t":10,"s":8.9e-3},{"l":"B20","t":20,"s":1.12e-2},{"l":"B20","t":40,"s":1.26e-2},
{"l":"B21","t":0.0055,"s":2.5e-5},{"l":"B21","t":0.01,"s":2.8e-5},{"l":"B21","t":0.02,"s":3.5e-5},{"l":"B21","t":0.05,"s":6.3e-5},{"l":"B21","t":0.1,"s":1.26e-4},{"l":"B21","t":0.2,"s":2.8e-4},{"l":"B21","t":0.5,"s":7.9e-4},{"l":"B21","t":1,"s":1.6e-3},{"l":"B21","t":2,"s":2.8e-3},{"l":"B21","t":5,"s":4.5e-3},{"l":"B21","t":10,"s":3.5e-3},{"l":"B21","t":20,"s":6.3e-3},{"l":"B21","t":40,"s":1.12e-2},
{"l":"B6","t":0.0055,"s":5.6e-5},{"l":"B6","t":0.01,"s":6e-5},{"l":"B6","t":0.02,"s":7.1e-5},{"l":"B6","t":0.05,"s":1.12e-4},{"l":"B6","t":0.1,"s":1.8e-4},{"l":"B6","t":0.2,"s":3.2e-4},{"l":"B6","t":0.5,"s":7.1e-4},{"l":"B6","t":1,"s":1.26e-3},{"l":"B6","t":2,"s":2e-3},{"l":"B6","t":5,"s":2.5e-3},{"l":"B6","t":10,"s":2.8e-3},{"l":"B6","t":20,"s":3.5e-3},{"l":"B6","t":40,"s":7.9e-3},
{"l":"B7","t":0.0055,"s":4.5e-5},{"l":"B7","t":0.01,"s":5e-5},{"l":"B7","t":0.02,"s":6.3e-5},{"l":"B7","t":0.05,"s":1e-4},{"l":"B7","t":0.1,"s":1.6e-4},{"l":"B7","t":0.2,"s":2.8e-4},{"l":"B7","t":0.5,"s":6.3e-4},{"l":"B7","t":1,"s":1.12e-3},{"l":"B7","t":2,"s":1.8e-3},{"l":"B7","t":5,"s":2.8e-3},{"l":"B7","t":10,"s":4e-3},{"l":"B7","t":20,"s":6.3e-3},{"l":"B7","t":40,"s":1.26e-2},
{"l":"B8","t":0.0055,"s":3.2e-5},{"l":"B8","t":0.01,"s":3.5e-5},{"l":"B8","t":0.02,"s":4.5e-5},{"l":"B8","t":0.05,"s":7.1e-5},{"l":"B8","t":0.1,"s":1.12e-4},{"l":"B8","t":0.2,"s":2e-4},{"l":"B8","t":0.5,"s":4.5e-4},{"l":"B8","t":1,"s":8.9e-4},{"l":"B8","t":2,"s":1.4e-3},{"l":"B8","t":5,"s":1.8e-3},{"l":"B8","t":10,"s":2.2e-3},{"l":"B8","t":20,"s":2.8e-3},{"l":"B8","t":40,"s":4.5e-3},
{"l":"B9","t":0.0055,"s":2.5e-5},{"l":"B9","t":0.01,"s":2.8e-5},{"l":"B9","t":0.02,"s":3.5e-5},{"l":"B9","t":0.05,"s":5.6e-5},{"l":"B9","t":0.1,"s":8.9e-5},{"l":"B9","t":0.2,"s":1.6e-4},{"l":"B9","t":0.5,"s":3.5e-4},{"l":"B9","t":1,"s":6.3e-4},{"l":"B9","t":2,"s":8.9e-4},{"l":"B9","t":5,"s":1.12e-3},{"l":"B9","t":10,"s":1.4e-3},{"l":"B9","t":20,"s":1.8e-3},{"l":"B9","t":40,"s":3.2e-3},
{"l":"B10","t":0.0055,"s":2e-5},{"l":"B10","t":0.01,"s":2.2e-5},{"l":"B10","t":0.02,"s":2.8e-5},{"l":"B10","t":0.05,"s":4.5e-5},{"l":"B10","t":0.1,"s":7.1e-5},{"l":"B10","t":0.2,"s":1.26e-4},{"l":"B10","t":0.5,"s":2.5e-4},{"l":"B10","t":1,"s":4.5e-4},{"l":"B10","t":2,"s":6.3e-4},{"l":"B10","t":5,"s":7.9e-4},{"l":"B10","t":10,"s":1e-3},{"l":"B10","t":20,"s":1.12e-3},{"l":"B10","t":40,"s":7.9e-4},
{"l":"B11","t":0.0055,"s":2.2e-5},{"l":"B11","t":0.01,"s":2.5e-5},{"l":"B11","t":0.02,"s":3.2e-5},{"l":"B11","t":0.05,"s":4.2e-5},{"l":"B11","t":0.1,"s":5.6e-5},{"l":"B11","t":0.2,"s":8.9e-5},{"l":"B11","t":0.5,"s":1.6e-4},{"l":"B11","t":1,"s":2.8e-4},{"l":"B11","t":2,"s":4e-4},{"l":"B11","t":5,"s":5.6e-4},{"l":"B11","t":10,"s":7.1e-4},{"l":"B11","t":20,"s":1e-3},{"l":"B11","t":40,"s":6.3e-4},
{"l":"B12","t":0.0055,"s":4e-5},{"l":"B12","t":0.01,"s":4.5e-5},{"l":"B12","t":0.02,"s":5.6e-5},{"l":"B12","t":0.05,"s":1e-4},{"l":"B12","t":0.1,"s":2e-4},{"l":"B12","t":0.2,"s":4.5e-4},{"l":"B12","t":0.5,"s":1.4e-3},{"l":"B12","t":1,"s":3.2e-3},{"l":"B12","t":2,"s":5.6e-3},{"l":"B12","t":5,"s":7.9e-3},{"l":"B12","t":10,"s":7.1e-3},{"l":"B12","t":20,"s":8.9e-3},{"l":"B12","t":40,"s":1e-2},
{"l":"B13","t":0.0055,"s":5e-5},{"l":"B13","t":0.01,"s":5.2e-5},{"l":"B13","t":0.02,"s":6.3e-5},{"l":"B13","t":0.05,"s":8.9e-5},{"l":"B13","t":0.1,"s":1.4e-4},{"l":"B13","t":0.2,"s":2.5e-4},{"l":"B13","t":0.5,"s":5.6e-4},{"l":"B13","t":1,"s":1e-3},{"l":"B13","t":2,"s":1.6e-3},{"l":"B13","t":5,"s":2e-3},{"l":"B13","t":10,"s":2.2e-3},{"l":"B13","t":20,"s":2.5e-3},{"l":"B13","t":40,"s":6.3e-3},
{"l":"B22","t":0.0049,"s":2.5e-6},{"l":"B22","t":0.0058,"s":4.1e-6},{"l":"B22","t":0.0069,"s":1.95e-6},{"l":"B22","t":0.0085,"s":7.4e-6},{"l":"B22","t":0.0107,"s":1.1e-5},{"l":"B22","t":0.0138,"s":9.5e-6},{"l":"B22","t":0.016,"s":1.86e-5},{"l":"B22","t":0.024,"s":2.45e-5},{"l":"B22","t":0.074,"s":6.3e-5},{"l":"B22","t":0.2,"s":1.4e-4},{"l":"B22","t":0.5,"s":4.7e-4},{"l":"B22","t":1,"s":1.2e-3},{"l":"B22","t":1.9,"s":2.3e-3},{"l":"B22","t":3,"s":3e-3},{"l":"B22","t":5,"s":2.8e-3},{"l":"B22","t":9.5,"s":2.3e-3},{"l":"B22","t":16,"s":1.66e-3},{"l":"B22","t":21,"s":2.5e-3},{"l":"B22","t":26,"s":4.1e-3},{"l":"B22","t":38,"s":1.35e-3}
],
"sym":[
{"l":"S18","t":0.0055,"s":7.9e-5},{"l":"S18","t":0.01,"s":8.9e-5},{"l":"S18","t":0.02,"s":1e-4},{"l":"S18","t":0.05,"s":1.26e-4},{"l":"S18","t":0.1,"s":1.6e-4},{"l":"S18","t":0.2,"s":2.2e-4},{"l":"S18","t":0.5,"s":3.5e-4},{"l":"S18","t":1,"s":5e-4},{"l":"S18","t":2,"s":6.3e-4},{"l":"S18","t":5,"s":7.1e-4},{"l":"S18","t":10,"s":7.9e-4},{"l":"S18","t":20,"s":7.9e-4},{"l":"S18","t":40,"s":6.3e-4},
{"l":"S19","t":0.0055,"s":5.6e-5},{"l":"S19","t":0.01,"s":6.3e-5},{"l":"S19","t":0.02,"s":7.1e-5},{"l":"S19","t":0.05,"s":8.9e-5},{"l":"S19","t":0.1,"s":1.12e-4},{"l":"S19","t":0.2,"s":1.6e-4},{"l":"S19","t":0.5,"s":2.5e-4},{"l":"S19","t":1,"s":3.5e-4},{"l":"S19","t":2,"s":4.5e-4},{"l":"S19","t":5,"s":5e-4},{"l":"S19","t":10,"s":5.6e-4},{"l":"S19","t":20,"s":5.6e-4},{"l":"S19","t":40,"s":4.5e-4},
{"l":"S20","t":0.0055,"s":4e-5},{"l":"S20","t":0.01,"s":4.5e-5},{"l":"S20","t":0.02,"s":5e-5},{"l":"S20","t":0.05,"s":6.3e-5},{"l":"S20","t":0.1,"s":7.9e-5},{"l":"S20","t":0.2,"s":1.12e-4},{"l":"S20","t":0.5,"s":2e-4},{"l":"S20","t":1,"s":2.8e-4},{"l":"S20","t":2,"s":3.5e-4},{"l":"S20","t":5,"s":4e-4},{"l":"S20","t":10,"s":4.5e-4},{"l":"S20","t":20,"s":4e-4},{"l":"S20","t":40,"s":3.2e-4},
{"l":"S21","t":0.0055,"s":1e-4},{"l":"S21","t":0.01,"s":1.05e-4},{"l":"S21","t":0.02,"s":1.12e-4},{"l":"S21","t":0.05,"s":1.4e-4},{"l":"S21","t":0.1,"s":1.8e-4},{"l":"S21","t":0.2,"s":2.5e-4},{"l":"S21","t":0.5,"s":4e-4},{"l":"S21","t":1,"s":5.6e-4},{"l":"S21","t":2,"s":7.1e-4},{"l":"S21","t":5,"s":7.9e-4},{"l":"S21","t":10,"s":8.9e-4},{"l":"S21","t":20,"s":7.9e-4},{"l":"S21","t":40,"s":5e-4},
{"l":"S1","t":0.0055,"s":2.4e-4},{"l":"S1","t":0.01,"s":3.2e-4},{"l":"S1","t":0.02,"s":5.6e-4},{"l":"S1","t":0.05,"s":1.4e-3},{"l":"S1","t":0.1,"s":3.5e-3},{"l":"S1","t":0.2,"s":8.9e-3},{"l":"S1","t":0.5,"s":3.3e-2},{"l":"S1","t":1,"s":8.9e-2},{"l":"S1","t":2,"s":0.141},{"l":"S1","t":5,"s":0.151},{"l":"S1","t":10,"s":0.166},{"l":"S1","t":20,"s":0.2},{"l":"S1","t":40,"s":0.224},
{"l":"S3","t":0.0055,"s":1.8e-4},{"l":"S3","t":0.01,"s":2.2e-4},{"l":"S3","t":0.02,"s":3.5e-4},{"l":"S3","t":0.05,"s":7.9e-4},{"l":"S3","t":0.1,"s":1.8e-3},{"l":"S3","t":0.2,"s":4.5e-3},{"l":"S3","t":0.5,"s":1.6e-2},{"l":"S3","t":1,"s":3.5e-2},{"l":"S3","t":2,"s":6.3e-2},{"l":"S3","t":5,"s":7.1e-2},{"l":"S3","t":10,"s":6.3e-2},{"l":"S3","t":20,"s":7.9e-2},{"l":"S3","t":40,"s":6.3e-2},
{"l":"S5","t":0.0055,"s":6.3e-5},{"l":"S5","t":0.01,"s":7.9e-5},{"l":"S5","t":0.02,"s":1.12e-4},{"l":"S5","t":0.05,"s":2.5e-4},{"l":"S5","t":0.1,"s":6.3e-4},{"l":"S5","t":0.2,"s":1.6e-3},{"l":"S5","t":0.5,"s":6.3e-3},{"l":"S5","t":1,"s":1.6e-2},{"l":"S5","t":2,"s":2.5e-2},{"l":"S5","t":5,"s":3.2e-2},{"l":"S5","t":10,"s":2.8e-2},{"l":"S5","t":20,"s":3.5e-2},{"l":"S5","t":40,"s":2.8e-2},
{"l":"S6","t":0.0055,"s":5e-5},{"l":"S6","t":0.01,"s":5.6e-5},{"l":"S6","t":0.02,"s":7.9e-5},{"l":"S6","t":0.05,"s":1.8e-4},{"l":"S6","t":0.1,"s":4.5e-4},{"l":"S6","t":0.2,"s":1.26e-3},{"l":"S6","t":0.5,"s":5e-3},{"l":"S6","t":1,"s":1.12e-2},{"l":"S6","t":2,"s":1.6e-2},{"l":"S6","t":5,"s":1.8e-2},{"l":"S6","t":10,"s":2e-2},{"l":"S6","t":20,"s":2e-2},{"l":"S6","t":40,"s":2.5e-2},
{"l":"S8","t":0.0055,"s":4e-5},{"l":"S8","t":0.01,"s":4.5e-5},{"l":"S8","t":0.02,"s":6.3e-5},{"l":"S8","t":0.05,"s":1.26e-4},{"l":"S8","t":0.1,"s":3.2e-4},{"l":"S8","t":0.2,"s":8.9e-4},{"l":"S8","t":0.5,"s":3.5e-3},{"l":"S8","t":1,"s":7.9e-3},{"l":"S8","t":2,"s":1.12e-2},{"l":"S8","t":5,"s":1.26e-2},{"l":"S8","t":10,"s":1.4e-2},{"l":"S8","t":20,"s":1.6e-2},{"l":"S8","t":40,"s":1.26e-2},
{"l":"S9","t":0.0055,"s":2e-4},{"l":"S9","t":0.01,"s":2.5e-4},{"l":"S9","t":0.02,"s":4e-4},{"l":"S9","t":0.05,"s":1e-3},{"l":"S9","t":0.1,"s":2.5e-3},{"l":"S9","t":0.2,"s":6.3e-3},{"l":"S9","t":0.5,"s":2.2e-2},{"l":"S9","t":1,"s":6.3e-2},{"l":"S9","t":2,"s":0.112},{"l":"S9","t":5,"s":0.126},{"l":"S9","t":10,"s":0.12},{"l":"S9","t":20,"s":0.151},{"l":"S9","t":40,"s":0.112},
{"l":"S11","t":0.0055,"s":2.8e-5},{"l":"S11","t":0.01,"s":3.2e-5},{"l":"S11","t":0.02,"s":4.5e-5},{"l":"S11","t":0.05,"s":8.9e-5},{"l":"S11","t":0.1,"s":1.8e-4},{"l":"S11","t":0.2,"s":4e-4},{"l":"S11","t":0.5,"s":1.8e-3},{"l":"S11","t":1,"s":4e-3},{"l":"S11","t":2,"s":5.6e-3},{"l":"S11","t":5,"s":6.3e-3},{"l":"S11","t":10,"s":7.1e-3},{"l":"S11","t":20,"s":5.6e-3},{"l":"S11","t":40,"s":7.1e-3},
{"l":"S13","t":0.0055,"s":2e-5},{"l":"S13","t":0.01,"s":2.2e-5},{"l":"S13","t":0.02,"s":3.2e-5},{"l":"S13","t":0.05,"s":6.3e-5},{"l":"S13","t":0.1,"s":1.26e-4},{"l":"S13","t":0.2,"s":2.8e-4},{"l":"S13","t":0.5,"s":1.26e-3},{"l":"S13","t":1,"s":2.8e-3},{"l":"S13","t":2,"s":4e-3},{"l":"S13","t":5,"s":4.5e-3},{"l":"S13","t":10,"s":3.5e-3},{"l":"S13","t":20,"s":2.2e-3},{"l":"S13","t":40,"s":2.8e-3},
{"l":"S15","t":0.0055,"s":1.26e-5},{"l":"S15","t":0.01,"s":1.4e-5},{"l":"S15","t":0.02,"s":2e-5},{"l":"S15","t":0.05,"s":4e-5},{"l":"S15","t":0.1,"s":8.9e-5},{"l":"S15","t":0.2,"s":2e-4},{"l":"S15","t":0.5,"s":8.9e-4},{"l":"S15","t":1,"s":2e-3},{"l":"S15","t":2,"s":2.8e-3},{"l":"S15","t":5,"s":2.8e-3},{"l":"S15","t":10,"s":1.8e-3},{"l":"S15","t":20,"s":2e-3},{"l":"S15","t":40,"s":2e-3},
{"l":"S17","t":0.0055,"s":1.12e-5},{"l":"S17","t":0.01,"s":1.26e-5},{"l":"S17","t":0.02,"s":1.8e-5},{"l":"S17","t":0.05,"s":3.2e-5},{"l":"S17","t":0.1,"s":7.1e-5},{"l":"S17","t":0.2,"s":1.6e-4},{"l":"S17","t":0.5,"s":7.1e-4},{"l":"S17","t":1,"s":1.6e-3},{"l":"S17","t":2,"s":2.2e-3},{"l":"S17","t":5,"s":2.5e-3},{"l":"S17","t":10,"s":2e-3},{"l":"S17","t":20,"s":1.12e-3},{"l":"S17","t":40,"s":1.4e-3},
{"l":"S24","t":0.0055,"s":1e-5},{"l":"S24","t":0.01,"s":1e-5},{"l":"S24","t":0.02,"s":1.12e-5},{"l":"S24","t":0.05,"s":1.4e-5},{"l":"S24","t":0.1,"s":2e-5},{"l":"S24","t":0.2,"s":3.2e-5},{"l":"S24","t":0.5,"s":7.1e-5},{"l":"S24","t":1,"s":1.4e-4},{"l":"S24","t":2,"s":2e-4},{"l":"S24","t":5,"s":1.9e-4},{"l":"S24","t":10,"s":1.9e-4},{"l":"S24","t":20,"s":2e-4},{"l":"S24","t":40,"s":1.9e-4},
{"l":"S25","t":0.0055,"s":6.3e-6},{"l":"S25","t":0.01,"s":7.9e-6},{"l":"S25","t":0.02,"s":7.1e-6},{"l":"S25","t":0.05,"s":1e-5},{"l":"S25","t":0.1,"s":1.6e-5},{"l":"S25","t":0.2,"s":2.8e-5},{"l":"S25","t":0.5,"s":7.9e-5},{"l":"S25","t":1,"s":1.8e-4},{"l":"S25","t":2,"s":2.8e-4},{"l":"S25","t":5,"s":3.5e-4},{"l":"S25","t":10,"s":3.2e-4},{"l":"S25","t":20,"s":2.8e-4},{"l":"S25","t":40,"s":3.5e-4},
{"l":"S27","t":0.0055,"s":5e-6},{"l":"S27","t":0.01,"s":1.26e-5},{"l":"S27","t":0.02,"s":6.3e-6},{"l":"S27","t":0.05,"s":1.12e-5},{"l":"S27","t":0.1,"s":2.2e-5},{"l":"S27","t":0.2,"s":5e-5},{"l":"S27","t":0.5,"s":1.8e-4},{"l":"S27","t":1,"s":4.5e-4},{"l":"S27","t":2,"s":8.9e-4},{"l":"S27","t":5,"s":1.26e-3},{"l":"S27","t":10,"s":1e-3},{"l":"S27","t":20,"s":1.4e-3},{"l":"S27","t":40,"s":1e-3},
{"l":"S2","t":0.0055,"s":1.26e-4},{"l":"S2","t":0.01,"s":1.6e-4},{"l":"S2","t":0.02,"s":2.5e-4},{"l":"S2","t":0.05,"s":6.3e-4},{"l":"S2","t":0.1,"s":1.6e-3},{"l":"S2","t":0.2,"s":4e-3},{"l":"S2","t":0.5,"s":1.6e-2},{"l":"S2","t":1,"s":4.5e-2},{"l":"S2","t":2,"s":8.9e-2},{"l":"S2","t":5,"s":0.112},{"l":"S2","t":10,"s":8.9e-2},{"l":"S2","t":20,"s":0.112},{"l":"S2","t":40,"s":0.1},
{"l":"S4","t":0.0055,"s":8.9e-5},{"l":"S4","t":0.01,"s":1e-4},{"l":"S4","t":0.02,"s":1.4e-4},{"l":"S4","t":0.05,"s":3.2e-4},{"l":"S4","t":0.1,"s":7.9e-4},{"l":"S4","t":0.2,"s":2.2e-3},{"l":"S4","t":0.5,"s":8.9e-3},{"l":"S4","t":1,"s":2.2e-2},{"l":"S4","t":2,"s":3.5e-2},{"l":"S4","t":5,"s":4e-2},{"l":"S4","t":10,"s":4.5e-2},{"l":"S4","t":20,"s":4e-2},{"l":"S4","t":40,"s":5e-2},
{"l":"S7","t":0.0055,"s":1e-4},{"l":"S7","t":0.01,"s":1.12e-4},{"l":"S7","t":0.02,"s":1.6e-4},{"l":"S7","t":0.05,"s":3.5e-4},{"l":"S7","t":0.1,"s":8.9e-4},{"l":"S7","t":0.2,"s":2.5e-3},{"l":"S7","t":0.5,"s":1.12e-2},{"l":"S7","t":1,"s":3.2e-2},{"l":"S7","t":2,"s":5.6e-2},{"l":"S7","t":5,"s":7.9e-2},{"l":"S7","t":10,"s":7.9e-2},{"l":"S7","t":20,"s":8.9e-2},{"l":"S7","t":40,"s":0.112},
{"l":"S10","t":0.0055,"s":4e-5},{"l":"S10","t":0.01,"s":4.5e-5},{"l":"S10","t":0.02,"s":6.3e-5},{"l":"S10","t":0.05,"s":1.12e-4},{"l":"S10","t":0.1,"s":2.5e-4},{"l":"S10","t":0.2,"s":5.6e-4},{"l":"S10","t":0.5,"s":2.5e-3},{"l":"S10","t":1,"s":5.6e-3},{"l":"S10","t":2,"s":7.9e-3},{"l":"S10","t":5,"s":8.9e-3},{"l":"S10","t":10,"s":1e-2},{"l":"S10","t":20,"s":1.12e-2},{"l":"S10","t":40,"s":1.26e-2},
{"l":"S12","t":0.0055,"s":3.5e-5},{"l":"S12","t":0.01,"s":4e-5},{"l":"S12","t":0.02,"s":5e-5},{"l":"S12","t":0.05,"s":8.9e-5},{"l":"S12","t":0.1,"s":2e-4},{"l":"S12","t":0.2,"s":5e-4},{"l":"S12","t":0.5,"s":2e-3},{"l":"S12","t":1,"s":4.5e-3},{"l":"S12","t":2,"s":6.3e-3},{"l":"S12","t":5,"s":6.3e-3},{"l":"S12","t":10,"s":3.5e-3},{"l":"S12","t":20,"s":5.6e-3},{"l":"S12","t":40,"s":7.9e-3},
{"l":"S14","t":0.0055,"s":1.4e-5},{"l":"S14","t":0.01,"s":1.6e-5},{"l":"S14","t":0.02,"s":2.2e-5},{"l":"S14","t":0.05,"s":4.5e-5},{"l":"S14","t":0.1,"s":1e-4},{"l":"S14","t":0.2,"s":2.5e-4},{"l":"S14","t":0.5,"s":1.12e-3},{"l":"S14","t":1,"s":2.5e-3},{"l":"S14","t":2,"s":3.5e-3},{"l":"S14","t":5,"s":3.5e-3},{"l":"S14","t":10,"s":2.8e-3},{"l":"S14","t":20,"s":3.5e-3},{"l":"S14","t":40,"s":4e-3},
{"l":"S16","t":0.0055,"s":2.5e-5},{"l":"S16","t":0.01,"s":2.8e-5},{"l":"S16","t":0.02,"s":3.5e-5},{"l":"S16","t":0.05,"s":7.1e-5},{"l":"S16","t":0.1,"s":1.4e-4},{"l":"S16","t":0.2,"s":3.5e-4},{"l":"S16","t":0.5,"s":1.4e-3},{"l":"S16","t":1,"s":3.2e-3},{"l":"S16","t":2,"s":4.5e-3},{"l":"S16","t":5,"s":4.5e-3},{"l":"S16","t":10,"s":1.4e-3},{"l":"S16","t":20,"s":3.2e-3},{"l":"S16","t":40,"s":5e-3},
{"l":"S22","t":0.0055,"s":2e-5},{"l":"S22","t":0.01,"s":2.2e-5},{"l":"S22","t":0.02,"s":2.5e-5},{"l":"S22","t":0.05,"s":3.2e-5},{"l":"S22","t":0.1,"s":4.5e-5},{"l":"S22","t":0.2,"s":7.1e-5},{"l":"S22","t":0.5,"s":1.6e-4},{"l":"S22","t":1,"s":3.5e-4},{"l":"S22","t":2,"s":6.3e-4},{"l":"S22","t":5,"s":1e-3},{"l":"S22","t":10,"s":1.4e-3},{"l":"S22","t":20,"s":1.6e-3},{"l":"S22","t":40,"s":1.6e-3},
{"l":"S23","t":0.0055,"s":1.26e-5},{"l":"S23","t":0.01,"s":1.4e-5},{"l":"S23","t":0.02,"s":1.6e-5},{"l":"S23","t":0.05,"s":2e-5},{"l":"S23","t":0.1,"s":2.8e-5},{"l":"S23","t":0.2,"s":4.5e-5},{"l":"S23","t":0.5,"s":1.12e-4},{"l":"S23","t":1,"s":2.5e-4},{"l":"S23","t":2,"s":4e-4},{"l":"S23","t":5,"s":3.2e-4},{"l":"S23","t":10,"s":1.12e-4},{"l":"S23","t":20,"s":2.8e-4},{"l":"S23","t":40,"s":1.4e-4},
{"l":"S26","t":0.0055,"s":2.8e-5},{"l":"S26","t":0.01,"s":3.2e-5},{"l":"S26","t":0.02,"s":3.5e-5},{"l":"S26","t":0.05,"s":4.5e-5},{"l":"S26","t":0.1,"s":6.3e-5},{"l":"S26","t":0.2,"s":1e-4},{"l":"S26","t":0.5,"s":2.5e-4},{"l":"S26","t":1,"s":5.6e-4},{"l":"S26","t":2,"s":1.12e-3},{"l":"S26","t":5,"s":1.6e-3},{"l":"S26","t":10,"s":1.8e-3},{"l":"S26","t":20,"s":2e-3},{"l":"S26","t":40,"s":2.5e-3},
{"l":"S28","t":0.0055,"s":8.9e-6},{"l":"S28","t":0.01,"s":1e-5},{"l":"S28","t":0.02,"s":1.26e-5},{"l":"S28","t":0.05,"s":1.8e-5},{"l":"S28","t":0.1,"s":2.8e-5},{"l":"S28","t":0.2,"s":5e-5},{"l":"S28","t":0.5,"s":1.4e-4},{"l":"S28","t":1,"s":3.2e-4},{"l":"S28","t":2,"s":5e-4},{"l":"S28","t":5,"s":5.6e-4},{"l":"S28","t":10,"s":4e-4},{"l":"S28","t":20,"s":5e-4},{"l":"S28","t":40,"s":4.5e-4},
{"l":"S29","t":0.0055,"s":1e-5},{"l":"S29","t":0.01,"s":1.12e-5},{"l":"S29","t":0.02,"s":1.26e-5},{"l":"S29","t":0.05,"s":1.8e-5},{"l":"S29","t":0.1,"s":3.5e-5},{"l":"S29","t":0.2,"s":1e-4},{"l":"S29","t":0.5,"s":6.3e-4},{"l":"S29","t":1,"s":3e-3},{"l":"S29","t":2,"s":7.9e-3},{"l":"S29","t":4,"s":1.48e-2},{"l":"S29","t":7,"s":1.12e-2},{"l":"S29","t":10,"s":8.9e-3},{"l":"S29","t":14,"s":1.26e-2},{"l":"S29","t":20,"s":1.12e-2},{"l":"S29","t":28,"s":2.5e-2},{"l":"S29","t":40,"s":6.3e-2},
{"l":"S30","t":0.0049,"s":2.5e-6},{"l":"S30","t":0.0056,"s":1.95e-6},{"l":"S30","t":0.0063,"s":1.9e-6},{"l":"S30","t":0.0085,"s":9.5e-6},{"l":"S30","t":0.0097,"s":7.9e-6},{"l":"S30","t":0.0126,"s":2.95e-6},{"l":"S30","t":0.0162,"s":7.4e-6},{"l":"S30","t":0.0204,"s":4.4e-6},{"l":"S30","t":0.028,"s":5.6e-6},{"l":"S30","t":0.087,"s":7.4e-6},{"l":"S30","t":0.16,"s":1.6e-5},{"l":"S30","t":0.45,"s":9.3e-5},{"l":"S30","t":1,"s":3.5e-4},{"l":"S30","t":2.2,"s":4e-4},{"l":"S30","t":3.3,"s":1.8e-4},{"l":"S30","t":5,"s":4e-4},{"l":"S30","t":9,"s":3.2e-4},{"l":"S30","t":15,"s":4e-4},{"l":"S30","t":25,"s":3.2e-4},{"l":"S30","t":40,"s":3.5e-4}
]},
"hconcat":[
{"width":205,"height":193,"title":"Dippers","data":{"name":"dip"},
"transform":[{"lookup":"l","from":{"data":{"name":"lines"},"key":"l","fields":["c","d"]}}],
"layer":[
{"mark":{"type":"line","strokeWidth":0.9,"opacity":0.85,"clip":true},
"encoding":{
"x":{"field":"t","type":"quantitative","scale":{"type":"log","domain":[0.0035,62],"nice":false},"axis":{"orient":"bottom","values":[0.01,0.1,1,10],"labelExpr":"datum.value<0.05?'10⁻²':datum.value<0.5?'10⁻¹':datum.value<5?'10⁰':'10¹'","title":"τ","titleFontStyle":"italic","tickSize":3.5,"labelPadding":5,"titlePadding":4}},
"y":{"field":"s","type":"quantitative","scale":{"type":"log","domain":[1.65e-7,0.85],"nice":false},"axis":{"orient":"left","values":[1e-6,1e-5,1e-4,1e-3,1e-2,1e-1],"labelExpr":"datum.value<5e-6?'10⁻⁶':datum.value<5e-5?'10⁻⁵':datum.value<5e-4?'10⁻⁴':datum.value<5e-3?'10⁻³':datum.value<5e-2?'10⁻²':'10⁻¹'","title":"S(τ)","tickSize":3.5,"labelPadding":5,"titlePadding":11,"minExtent":36,"maxExtent":36}},
"color":{"field":"c","type":"nominal","scale":{"domain":["k","g","r","b"],"range":["#808080","#008000","#ff0000","#0000ff"]},"legend":null},
"strokeDash":{"field":"d","type":"nominal","scale":{"domain":["s","d"],"range":[[1,0],[3,1.5]]},"legend":null},
"detail":{"field":"l"}}},
{"mark":{"type":"line","opacity":0},
"encoding":{
"x":{"field":"t","type":"quantitative","scale":{"type":"log","domain":[0.0035,62],"nice":false},"axis":{"orient":"bottom","values":[0.004,0.005,0.006,0.007,0.008,0.009,0.02,0.03,0.04,0.05,0.06,0.07,0.08,0.09,0.2,0.3,0.4,0.5,0.6,0.7,0.8,0.9,2,3,4,5,6,7,8,9,20,30,40,50,60],"labels":false,"title":null,"tickSize":2}},
"y":{"field":"s","type":"quantitative","scale":{"type":"log","domain":[1.65e-7,0.85],"nice":false},"axis":{"orient":"left","values":[2e-7,3e-7,4e-7,5e-7,6e-7,7e-7,8e-7,9e-7,2e-6,3e-6,4e-6,5e-6,6e-6,7e-6,8e-6,9e-6,2e-5,3e-5,4e-5,5e-5,6e-5,7e-5,8e-5,9e-5,2e-4,3e-4,4e-4,5e-4,6e-4,7e-4,8e-4,9e-4,2e-3,3e-3,4e-3,5e-3,6e-3,7e-3,8e-3,9e-3,2e-2,3e-2,4e-2,5e-2,6e-2,7e-2,8e-2,9e-2,0.2,0.3,0.4,0.5,0.6,0.7,0.8],"labels":false,"title":null,"tickSize":2}},
"detail":{"field":"l"}}}],
"resolve":{"axis":{"x":"independent","y":"independent"}}},
{"width":205,"height":193,"title":"Bursters","data":{"name":"bur"},
"transform":[{"lookup":"l","from":{"data":{"name":"lines"},"key":"l","fields":["c","d"]}}],
"layer":[
{"mark":{"type":"line","strokeWidth":0.9,"opacity":0.85,"clip":true},
"encoding":{
"x":{"field":"t","type":"quantitative","scale":{"type":"log","domain":[0.0035,62],"nice":false},"axis":{"orient":"bottom","values":[0.01,0.1,1,10],"labelExpr":"datum.value<0.05?'10⁻²':datum.value<0.5?'10⁻¹':datum.value<5?'10⁰':'10¹'","title":"τ","titleFontStyle":"italic","tickSize":3.5,"labelPadding":5,"titlePadding":4}},
"y":{"field":"s","type":"quantitative","scale":{"type":"log","domain":[1.65e-7,0.85],"nice":false},"axis":{"orient":"left","values":[1e-6,1e-5,1e-4,1e-3,1e-2,1e-1],"labelExpr":"datum.value<5e-6?'10⁻⁶':datum.value<5e-5?'10⁻⁵':datum.value<5e-4?'10⁻⁴':datum.value<5e-3?'10⁻³':datum.value<5e-2?'10⁻²':'10⁻¹'","title":"S(τ)","tickSize":3.5,"labelPadding":5,"titlePadding":11,"minExtent":36,"maxExtent":36}},
"color":{"field":"c","type":"nominal","scale":{"domain":["k","g","r","b"],"range":["#808080","#008000","#ff0000","#0000ff"]},"legend":null},
"strokeDash":{"field":"d","type":"nominal","scale":{"domain":["s","d"],"range":[[1,0],[3,1.5]]},"legend":null},
"detail":{"field":"l"}}},
{"mark":{"type":"line","opacity":0},
"encoding":{
"x":{"field":"t","type":"quantitative","scale":{"type":"log","domain":[0.0035,62],"nice":false},"axis":{"orient":"bottom","values":[0.004,0.005,0.006,0.007,0.008,0.009,0.02,0.03,0.04,0.05,0.06,0.07,0.08,0.09,0.2,0.3,0.4,0.5,0.6,0.7,0.8,0.9,2,3,4,5,6,7,8,9,20,30,40,50,60],"labels":false,"title":null,"tickSize":2}},
"y":{"field":"s","type":"quantitative","scale":{"type":"log","domain":[1.65e-7,0.85],"nice":false},"axis":{"orient":"left","values":[2e-7,3e-7,4e-7,5e-7,6e-7,7e-7,8e-7,9e-7,2e-6,3e-6,4e-6,5e-6,6e-6,7e-6,8e-6,9e-6,2e-5,3e-5,4e-5,5e-5,6e-5,7e-5,8e-5,9e-5,2e-4,3e-4,4e-4,5e-4,6e-4,7e-4,8e-4,9e-4,2e-3,3e-3,4e-3,5e-3,6e-3,7e-3,8e-3,9e-3,2e-2,3e-2,4e-2,5e-2,6e-2,7e-2,8e-2,9e-2,0.2,0.3,0.4,0.5,0.6,0.7,0.8],"labels":false,"title":null,"tickSize":2}},
"detail":{"field":"l"}}}],
"resolve":{"axis":{"x":"independent","y":"independent"}}},
{"width":205,"height":193,"title":"Symmetric","data":{"name":"sym"},
"transform":[{"lookup":"l","from":{"data":{"name":"lines"},"key":"l","fields":["c","d"]}}],
"layer":[
{"mark":{"type":"line","strokeWidth":0.9,"opacity":0.85,"clip":true},
"encoding":{
"x":{"field":"t","type":"quantitative","scale":{"type":"log","domain":[0.0035,62],"nice":false},"axis":{"orient":"bottom","values":[0.01,0.1,1,10],"labelExpr":"datum.value<0.05?'10⁻²':datum.value<0.5?'10⁻¹':datum.value<5?'10⁰':'10¹'","title":"τ","titleFontStyle":"italic","tickSize":3.5,"labelPadding":5,"titlePadding":4}},
"y":{"field":"s","type":"quantitative","scale":{"type":"log","domain":[1.65e-7,0.85],"nice":false},"axis":{"orient":"left","values":[1e-6,1e-5,1e-4,1e-3,1e-2,1e-1],"labelExpr":"datum.value<5e-6?'10⁻⁶':datum.value<5e-5?'10⁻⁵':datum.value<5e-4?'10⁻⁴':datum.value<5e-3?'10⁻³':datum.value<5e-2?'10⁻²':'10⁻¹'","title":"S(τ)","tickSize":3.5,"labelPadding":5,"titlePadding":11,"minExtent":36,"maxExtent":36}},
"color":{"field":"c","type":"nominal","scale":{"domain":["k","g","r","b"],"range":["#808080","#008000","#ff0000","#0000ff"]},"legend":null},
"strokeDash":{"field":"d","type":"nominal","scale":{"domain":["s","d"],"range":[[1,0],[3,1.5]]},"legend":null},
"detail":{"field":"l"}}},
{"mark":{"type":"line","opacity":0},
"encoding":{
"x":{"field":"t","type":"quantitative","scale":{"type":"log","domain":[0.0035,62],"nice":false},"axis":{"orient":"bottom","values":[0.004,0.005,0.006,0.007,0.008,0.009,0.02,0.03,0.04,0.05,0.06,0.07,0.08,0.09,0.2,0.3,0.4,0.5,0.6,0.7,0.8,0.9,2,3,4,5,6,7,8,9,20,30,40,50,60],"labels":false,"title":null,"tickSize":2}},
"y":{"field":"s","type":"quantitative","scale":{"type":"log","domain":[1.65e-7,0.85],"nice":false},"axis":{"orient":"left","values":[2e-7,3e-7,4e-7,5e-7,6e-7,7e-7,8e-7,9e-7,2e-6,3e-6,4e-6,5e-6,6e-6,7e-6,8e-6,9e-6,2e-5,3e-5,4e-5,5e-5,6e-5,7e-5,8e-5,9e-5,2e-4,3e-4,4e-4,5e-4,6e-4,7e-4,8e-4,9e-4,2e-3,3e-3,4e-3,5e-3,6e-3,7e-3,8e-3,9e-3,2e-2,3e-2,4e-2,5e-2,6e-2,7e-2,8e-2,9e-2,0.2,0.3,0.4,0.5,0.6,0.7,0.8],"labels":false,"title":null,"tickSize":2}},
"detail":{"field":"l"}}}],
"resolve":{"axis":{"x":"independent","y":"independent"}}}
]}
